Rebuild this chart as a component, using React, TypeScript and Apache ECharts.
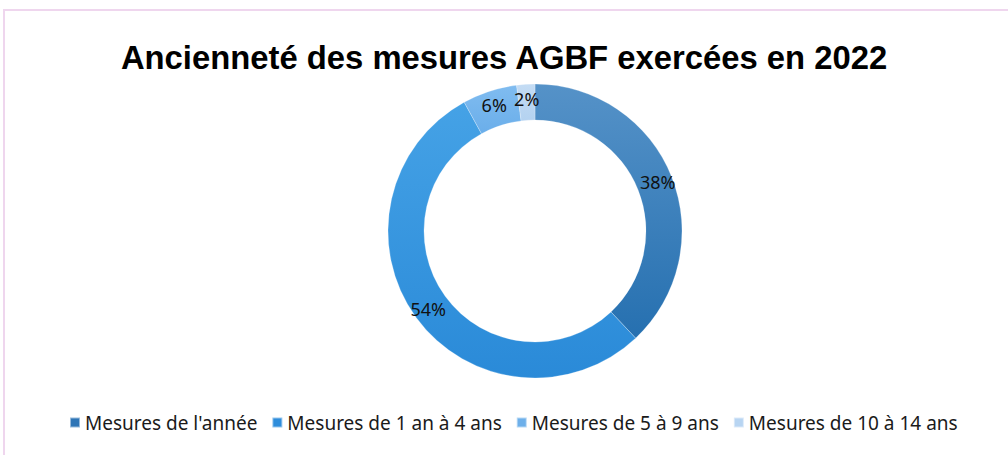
import React, { useEffect, useRef } from "react";
import * as echarts from "echarts";

const categories = [
  "Mesures de l'année",
  "Mesures de 1 an à 4 ans",
  "Mesures de 5 à 9 ans",
  "Mesures de 10 à 14 ans",
];
const values = [38, 54, 6, 2];
const titleText = "Ancienneté des mesures AGBF exercées en 2022";

const gradTop = ["#5592c8", "#45a2e6", "#80bcf0", "#c4dcf4"];
const gradBottom = ["#2670b0", "#2a8ad8", "#6aaeea", "#b4d2f0"];
const legendColors = ["#2e75b6", "#2e8ddb", "#6eb0ea", "#b8d5f2"];

export default function App() {
  const ref = useRef<HTMLDivElement>(null);
  useEffect(() => {
    document.body.style.margin = "0";
    const chart = echarts.init(ref.current!, null, { renderer: "svg" });
    const font = "'Liberation Sans', Arial, sans-serif";
    const font2 = "'Noto Sans', 'Liberation Sans', sans-serif";
    chart.setOption({
      animation: false,
      backgroundColor: "#ffffff",
      title: {
        text: titleText,
        left: "center",
        top: 36,
        textStyle: {
          fontFamily: font,
          fontWeight: "bold",
          fontSize: 32.8,
          color: "#000000",
        },
      },
      legend: {
        bottom: 18,
        left: 64,
        padding: 5,
        icon: "rect",
        itemWidth: 10,
        itemHeight: 10,
        itemGap: 14,
        textStyle: { fontFamily: font2, fontSize: 19, color: "#1a1a1a" },
        data: categories.map((c, i) => ({
          name: c,
          itemStyle: { color: legendColors[i] },
        })),
      },
      graphic: [
        {
          type: "rect",
          shape: { x: 4, y: 10, width: 1020, height: 460 },
          style: { fill: "none", stroke: "#efd6ee", lineWidth: 2 },
          silent: true,
        },
      ],
      series: [
        {
          type: "pie",
          center: [535, 231],
          radius: [111, 147],
          startAngle: 90,
          clockwise: true,
          avoidLabelOverlap: false,
          label: {
            show: true,
            position: "inside",
            formatter: "{d}%",
            fontFamily: font2,
            fontSize: 18,
            color: "#111111",
          },
          labelLine: { show: false },
          itemStyle: { borderColor: "rgba(255,255,255,0.5)", borderWidth: 0.5 },
          data: categories.map((c, i) => ({
            name: c,
            value: values[i],
            itemStyle: {
              color: new echarts.graphic.LinearGradient(0, 0, 0, 1, [
                { offset: 0, color: gradTop[i] },
                { offset: 1, color: gradBottom[i] },
              ]),
            },
          })),
        },
      ],
    });
    return () => chart.dispose();
  }, []);
  return <div ref={ref} style={{ width: 1008, height: 455 }} />;
}
